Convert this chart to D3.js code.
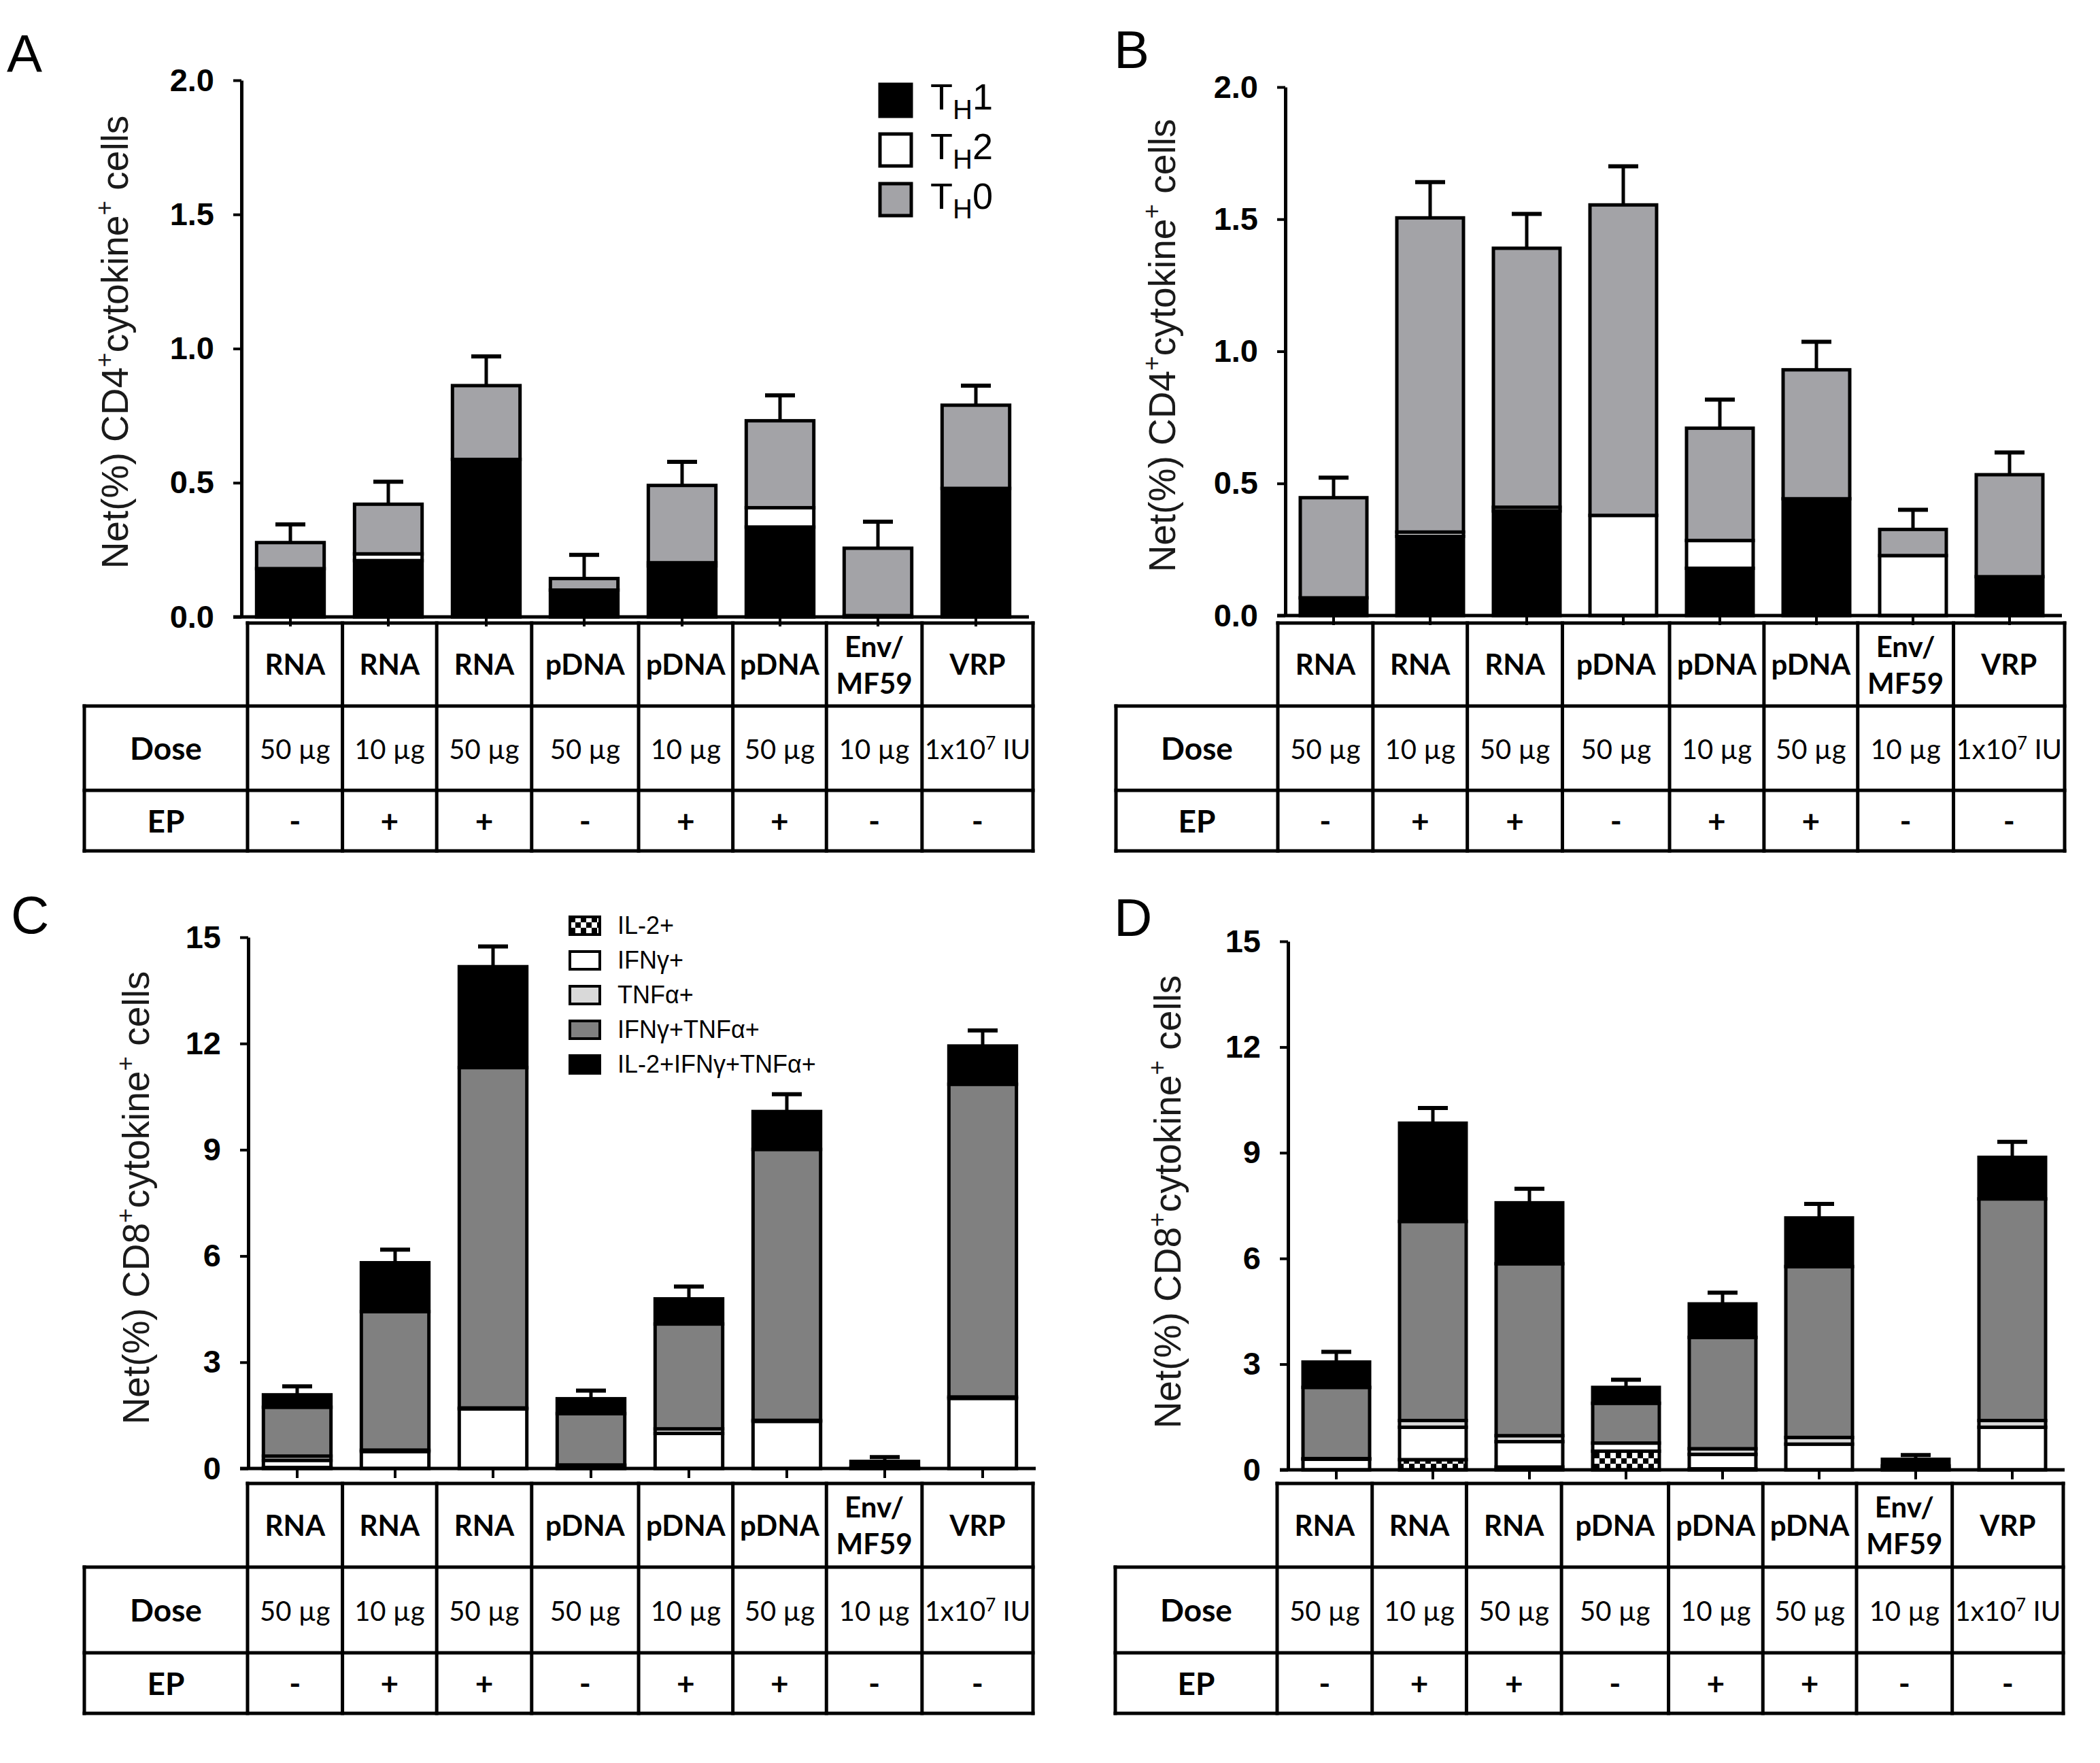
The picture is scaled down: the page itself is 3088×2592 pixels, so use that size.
<!DOCTYPE html>
<html>
<head>
<meta charset="utf-8">
<script src="https://cdn.jsdelivr.net/npm/d3@7"></script>
<style>
  body { margin: 0; background: #fff; }
</style>
</head>
<body>
<div id="chart"></div>
<script>
// Table rows shared by all four panels
const vaccines = ["RNA", "RNA", "RNA", "pDNA", "pDNA", "pDNA", "Env/MF59", "VRP"];
const doses = ["50 µg", "10 µg", "50 µg", "50 µg", "10 µg", "50 µg", "10 µg", "1x10^7 IU"];
const ep = ["-", "+", "+", "-", "+", "+", "-", "-"];

// Panel A - CD4 (TH1 / TH2 / TH0), error = SEM
const aTh1 = [0.18, 0.21, 0.587, 0.10, 0.19, 0.335, 0.005, 0.479];
const aTh2 = [0.0, 0.025, 0.0, 0.0, 0.012, 0.072, 0.0, 0.0];
const aTh0 = [0.097, 0.185, 0.275, 0.043, 0.288, 0.324, 0.251, 0.31];
const aSem = [0.068, 0.084, 0.109, 0.088, 0.088, 0.095, 0.099, 0.073];

// Panel B - CD4
const bTh1 = [0.067, 0.30, 0.396, 0.0, 0.179, 0.442, 0.0, 0.147];
const bTh2 = [0.0, 0.016, 0.014, 0.379, 0.105, 0.0, 0.227, 0.0];
const bTh0 = [0.379, 1.189, 0.98, 1.175, 0.425, 0.488, 0.099, 0.386];
const bSem = [0.076, 0.135, 0.13, 0.146, 0.108, 0.106, 0.074, 0.084];

// Panel C - CD8 cytokine subsets
const cIl2 = [0.03, 0.0, 0.0, 0.08, 0.0, 0.0, 0.0, 0.0];
const cIfng = [0.2, 0.48, 1.68, 0.02, 0.99, 1.33, 0.0, 1.98];
const cTnfa = [0.12, 0.04, 0.03, 0.0, 0.13, 0.03, 0.0, 0.04];
const cIfngTnfa = [1.38, 3.91, 9.61, 1.45, 2.96, 7.65, 0.03, 8.83];
const cTriple = [0.35, 1.38, 2.85, 0.42, 0.71, 1.07, 0.17, 1.08];
const cSem = [0.24, 0.37, 0.57, 0.23, 0.35, 0.49, 0.12, 0.44];

// Panel D - CD8 cytokine subsets
const dIl2 = [0.0, 0.29, 0.08, 0.53, 0.03, 0.0, 0.0, 0.0];
const dIfng = [0.30, 0.92, 0.72, 0.23, 0.41, 0.73, 0.03, 1.21];
const dTnfa = [0.02, 0.19, 0.17, 0.0, 0.16, 0.19, 0.0, 0.19];
const dIfngTnfa = [2.02, 5.65, 4.88, 1.13, 3.16, 4.85, 0.08, 6.29];
const dTriple = [0.72, 2.79, 1.73, 0.45, 0.95, 1.38, 0.19, 1.18];
const dSem = [0.29, 0.43, 0.40, 0.22, 0.32, 0.40, 0.12, 0.44];

const cd4Ticks = [0, 0.5, 1.0, 1.5, 2.0];
const cd8Ticks = [0, 3, 6, 9, 12, 15];

// relative widths of the table columns (pDNA and VRP cells are wider)
const colWeights = [142, 141, 142, 160, 141, 140, 143, 166];

const SANS = "'Liberation Sans', Arial, sans-serif";
const NARROW = "'Liberation Sans Narrow', 'Arial Narrow', " + SANS;
const TABLE = "Lato, 'Open Sans', sans-serif";

let svg = d3.select("#chart")
    .append("svg")
    .attr("width", 3088)
    .attr("height", 2592)
    .style("background", "#fff");

// checkered fill for IL-2+
const pat = svg.append("defs").append("pattern")
    .attr("id", "checker")
    .attr("patternUnits", "userSpaceOnUse")
    .attr("width", 16).attr("height", 16);
pat.append("rect").attr("width", 16).attr("height", 16).attr("fill", "#fff");
pat.append("rect").attr("width", 8).attr("height", 8).attr("fill", "#000");
pat.append("rect").attr("x", 8).attr("y", 8).attr("width", 8).attr("height", 8).attr("fill", "#000");

const cd4Fills = {th1: "#000", th2: "#fff", th0: "#a3a3a7"};
const cd8Fills = {il2: "url(#checker)", ifng: "#fff", tnfa: "#d9d9d9", ifngTnfa: "#808080", triple: "#000"};

// text with "^" superscripts, e.g. 1x10^7
function addSupText(sel, str, size) {
    const m = str.match(/^(.*)\^(\S)(.*)$/);
    if (!m) { sel.text(str); return; }
    sel.append("tspan").text(m[1]);
    sel.append("tspan").attr("dy", -size * 0.35).attr("font-size", size * 0.65).text(m[2]);
    sel.append("tspan").attr("dy", size * 0.35).text(m[3]);
}

function drawPanel(p) {
    const g = svg.append("g");

    // bars sit on an even grid starting at the y axis
    const x = d3.scaleBand()
        .domain(d3.range(vaccines.length))
        .range([p.axisX, p.axisX + p.step * vaccines.length]);
    // the table underneath has its own, uneven columns
    const edges = [0, ...d3.cumsum(colWeights)];
    const col = d3.scaleLinear()
        .domain([0, d3.sum(colWeights)])
        .range([p.colStart, p.colEnd]);
    const y = d3.scaleLinear()
        .domain([0, p.yMax])
        .range([p.y0, p.yTop]);

    const rows = vaccines.map((v, i) => {
        const r = {i: i};
        p.keys.forEach((k, j) => r[k] = p.series[j][i]);
        r.total = d3.sum(p.series, s => s[i]);
        r.sem = p.sem[i];
        return r;
    });
    const stacked = d3.stack().keys(p.keys)(rows);
    const bw = x.bandwidth() * 0.69;
    const cx = i => x(i) + x.bandwidth() / 2;
    const ccx = i => col((edges[i] + edges[i + 1]) / 2);

    // error bars (drawn first so the bar outline sits on top)
    const eb = g.append("g").selectAll("g").data(rows).join("g");
    eb.append("line")
        .attr("x1", d => cx(d.i)).attr("x2", d => cx(d.i))
        .attr("y1", d => y(d.total)).attr("y2", d => y(d.total + d.sem))
        .attr("stroke", "#000").attr("stroke-width", 5);
    eb.append("line")
        .attr("x1", d => cx(d.i) - 22).attr("x2", d => cx(d.i) + 22)
        .attr("y1", d => y(d.total + d.sem)).attr("y2", d => y(d.total + d.sem))
        .attr("stroke", "#000").attr("stroke-width", 6);

    // stacked bars
    g.append("g").selectAll("g").data(stacked).join("g")
        .attr("fill", d => p.fills[d.key])
        .selectAll("rect")
        .data(d => d.filter(s => s[1] - s[0] > 0))
        .join("rect")
        .attr("x", d => cx(d.data.i) - bw / 2)
        .attr("y", d => y(d[1]))
        .attr("width", bw)
        .attr("height", d => y(d[0]) - y(d[1]))
        .attr("stroke", "#000")
        .attr("stroke-width", 5);

    // y axis
    g.append("g")
        .attr("transform", `translate(${p.axisX},0)`)
        .call(d3.axisLeft(y).tickValues(p.yTicks).tickSize(12).tickSizeOuter(0)
            .tickPadding(28).tickFormat(p.fmt))
        .call(a => {
            a.select(".domain").attr("stroke-width", 5);
            a.selectAll(".tick line").attr("stroke-width", 4);
            a.selectAll(".tick text")
                .attr("font-family", SANS).attr("font-size", 47)
                .attr("font-weight", "bold").attr("fill", "#000");
        });

    // x axis (ticks only at bar centres)
    g.append("g")
        .attr("transform", `translate(0,${p.y0})`)
        .call(d3.axisBottom(x).tickSize(14).tickFormat(""))
        .call(a => {
            a.select(".domain").remove();
            a.selectAll(".tick line").attr("stroke-width", 4);
        });
    g.append("line")
        .attr("x1", p.axisX - 12).attr("x2", x.range()[1] + 6)
        .attr("y1", p.y0).attr("y2", p.y0)
        .attr("stroke", "#000").attr("stroke-width", 5);

    // y axis title
    const title = g.append("text")
        .attr("transform", `translate(${p.titleX},${p.titleY}) rotate(-90)`)
        .attr("text-anchor", "middle")
        .attr("font-family", SANS)
        .attr("font-size", 55)
        .attr("fill", "#1a1a1a");
    title.append("tspan").text("Net(%) " + p.cell);
    title.append("tspan").attr("dy", -22).attr("font-size", 37).text("+");
    title.append("tspan").attr("dy", 22).text("cytokine");
    title.append("tspan").attr("dy", -22).attr("font-size", 37).text("+");
    title.append("tspan").attr("dy", 22).text(" cells");

    // panel letter
    g.append("text")
        .attr("x", p.letterX).attr("y", p.letterY)
        .attr("font-family", SANS).attr("font-size", 78)
        .text(p.letter);

    // table below the axis
    const T = p.table;
    const tline = (x1, y1, x2, y2) => g.append("line")
        .attr("x1", x1).attr("y1", y1).attr("x2", x2).attr("y2", y2)
        .attr("stroke", "#000").attr("stroke-width", 5)
        .attr("stroke-linecap", "square");
    tline(p.colStart, T.rows[0], p.colEnd, T.rows[0]);
    tline(T.left, T.rows[1], p.colEnd, T.rows[1]);
    tline(T.left, T.rows[2], p.colEnd, T.rows[2]);
    tline(T.left, T.rows[3], p.colEnd, T.rows[3]);
    tline(T.left, T.rows[1], T.left, T.rows[3]);
    edges.forEach(e => tline(col(e), T.rows[0], col(e), T.rows[3]));

    const labelX = (T.left + p.colStart) / 2;
    const mid = (a, b) => (a + b) / 2;

    // vaccine row
    vaccines.forEach((v, i) => {
        const parts = v.includes("/") ? [v.split("/")[0] + "/", v.split("/")[1]] : [v];
        const t = g.append("text")
            .attr("text-anchor", "middle")
            .attr("font-family", TABLE).attr("font-weight", "bold")
            .attr("font-size", 42);
        if (parts.length === 1) {
            t.attr("x", ccx(i)).attr("y", mid(T.rows[0], T.rows[1]) + 15).text(v);
        } else {
            parts.forEach((s, k) => t.append("tspan")
                .attr("x", ccx(i))
                .attr("y", T.rows[0] + 50 + k * 54)
                .text(s));
        }
    });

    // dose row
    g.append("text")
        .attr("x", labelX).attr("y", mid(T.rows[1], T.rows[2]) + 17)
        .attr("text-anchor", "middle")
        .attr("font-family", TABLE).attr("font-weight", "bold").attr("font-size", 46)
        .text("Dose");
    doses.forEach((d, i) => {
        const t = g.append("text")
            .attr("x", ccx(i)).attr("y", mid(T.rows[1], T.rows[2]) + 16)
            .attr("text-anchor", "middle")
            .attr("font-family", TABLE).attr("font-size", 40);
        addSupText(t, d, 40);
    });

    // EP row
    g.append("text")
        .attr("x", labelX).attr("y", mid(T.rows[2], T.rows[3]) + 17)
        .attr("text-anchor", "middle")
        .attr("font-family", TABLE).attr("font-weight", "bold").attr("font-size", 46)
        .text("EP");
    ep.forEach((e, i) => {
        g.append("text")
            .attr("x", ccx(i)).attr("y", mid(T.rows[2], T.rows[3]) + 17)
            .attr("text-anchor", "middle")
            .attr("font-family", TABLE).attr("font-weight", "bold").attr("font-size", 46)
            .text(e);
    });

    return g;
}

const cd4Rows = [916, 1038, 1162, 1251];
const cd8Rows = [2181, 2304, 2430, 2519];

const gA = drawPanel({
    letter: "A", letterX: 10, letterY: 106,
    keys: ["th1", "th2", "th0"], series: [aTh1, aTh2, aTh0], sem: aSem, fills: cd4Fills,
    yMax: 2, yTicks: cd4Ticks, fmt: d3.format(".1f"),
    axisX: 355, step: 144, y0: 907, yTop: 118, colStart: 364, colEnd: 1519,
    titleX: 188, titleY: 503, cell: "CD4",
    table: {left: 124, rows: cd4Rows}
});

drawPanel({
    letter: "B", letterX: 1638, letterY: 100,
    keys: ["th1", "th2", "th0"], series: [bTh1, bTh2, bTh0], sem: bSem, fills: cd4Fills,
    yMax: 2, yTicks: cd4Ticks, fmt: d3.format(".1f"),
    axisX: 1890, step: 142, y0: 905, yTop: 128, colStart: 1879, colEnd: 3036,
    titleX: 1728, titleY: 508, cell: "CD4",
    table: {left: 1641, rows: cd4Rows}
});

const gC = drawPanel({
    letter: "C", letterX: 16, letterY: 1372,
    keys: ["il2", "ifng", "tnfa", "ifngTnfa", "triple"],
    series: [cIl2, cIfng, cTnfa, cIfngTnfa, cTriple], sem: cSem, fills: cd8Fills,
    yMax: 15, yTicks: cd8Ticks, fmt: d3.format("d"),
    axisX: 365, step: 144, y0: 2159, yTop: 1378, colStart: 364, colEnd: 1519,
    titleX: 219, titleY: 1761, cell: "CD8",
    table: {left: 124, rows: cd8Rows}
});

drawPanel({
    letter: "D", letterX: 1638, letterY: 1376,
    keys: ["il2", "ifng", "tnfa", "ifngTnfa", "triple"],
    series: [dIl2, dIfng, dTnfa, dIfngTnfa, dTriple], sem: dSem, fills: cd8Fills,
    yMax: 15, yTicks: cd8Ticks, fmt: d3.format("d"),
    axisX: 1894, step: 142, y0: 2161, yTop: 1384, colStart: 1878, colEnd: 3034,
    titleX: 1736, titleY: 1767, cell: "CD8",
    table: {left: 1640, rows: cd8Rows}
});

// Legend for panel A
const cd4Legend = [["th1", "1"], ["th2", "2"], ["th0", "0"]];
const legA = gA.selectAll(".legA").data(cd4Legend).join("g")
    .attr("transform", (d, i) => `translate(1294,${124 + i * 73})`);
legA.append("rect")
    .attr("width", 46).attr("height", 47)
    .attr("fill", d => cd4Fills[d[0]])
    .attr("stroke", "#000").attr("stroke-width", 5);
const legAText = legA.append("text")
    .attr("x", 74).attr("y", 37)
    .attr("font-family", NARROW)
    .attr("font-size", 54);
legAText.append("tspan").text("T");
legAText.append("tspan").attr("dy", 14).attr("font-size", 40).text("H");
legAText.append("tspan").attr("dy", -14).text(d => d[1]);

// Legend for panel C
const cd8Legend = [["il2", "IL-2+"], ["ifng", "IFNγ+"], ["tnfa", "TNFα+"],
    ["ifngTnfa", "IFNγ+TNFα+"], ["triple", "IL-2+IFNγ+TNFα+"]];
const legC = gC.selectAll(".legC").data(cd8Legend).join("g")
    .attr("transform", (d, i) => `translate(838,${1348 + i * 51})`);
legC.append("rect")
    .attr("width", 44).attr("height", 26)
    .attr("fill", d => cd8Fills[d[0]])
    .attr("stroke", "#000").attr("stroke-width", 4);
legC.append("text")
    .attr("x", 70).attr("y", 25)
    .attr("font-family", NARROW)
    .attr("font-size", 36)
    .text(d => d[1]);
</script>
</body>
</html>
